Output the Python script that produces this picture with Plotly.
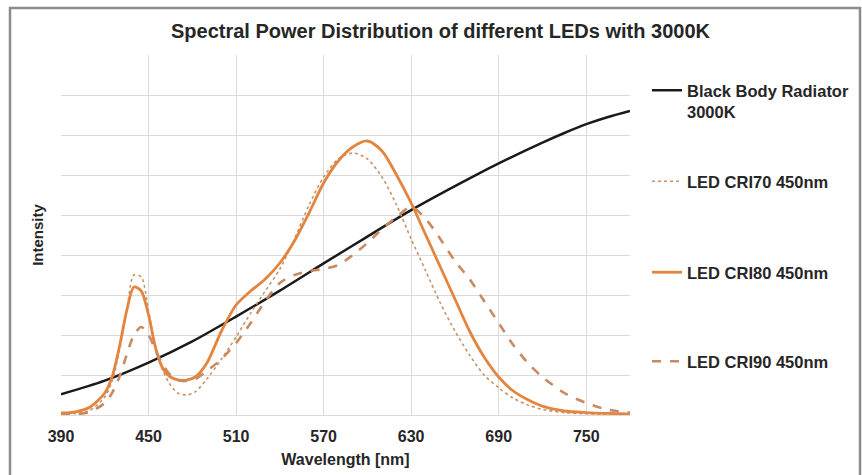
import plotly.graph_objects as go

# Wavelength samples (nm) for the LED spectra
wavelength = [390, 400, 410, 420, 425, 430, 435, 440, 445, 450, 455, 460, 465, 470,
              476, 482, 490, 500, 510, 520, 530, 540, 550, 560, 570, 580, 590, 600,
              610, 620, 630, 640, 650, 660, 670, 680, 690, 700, 710, 720, 735, 750,
              765, 780]

led_cri70 = [0.02, 0.04, 0.12, 0.45, 0.85, 1.6, 2.6, 3.5, 3.45, 2.6, 1.7, 1.1, 0.75, 0.55,
             0.5, 0.58, 0.9, 1.4, 1.95, 2.55, 3.1, 3.65, 4.4, 5.25, 5.95, 6.4, 6.55, 6.4,
             5.95, 5.25, 4.4, 3.6, 2.8, 2.1, 1.5, 1.0, 0.68, 0.42, 0.25, 0.14, 0.06, 0.03,
             0.02, 0.01]

led_cri80 = [0.05, 0.08, 0.2, 0.55, 0.95, 1.7, 2.6, 3.2, 3.1, 2.5, 1.65, 1.15, 0.95, 0.88,
             0.87, 0.95, 1.3, 2.1, 2.75, 3.1, 3.4, 3.8, 4.35, 5.05, 5.8, 6.35, 6.7, 6.85,
             6.6, 6.0, 5.3, 4.5, 3.7, 2.9, 2.1, 1.45, 0.95, 0.6, 0.38, 0.22, 0.1, 0.06,
             0.04, 0.03]

led_cri90 = [0.0, 0.02, 0.08, 0.3, 0.55, 0.95, 1.5, 2.0, 2.2, 2.0, 1.6, 1.25, 1.0, 0.88,
             0.85, 0.9, 1.1, 1.4, 1.8, 2.3, 2.85, 3.3, 3.5, 3.6, 3.65, 3.75, 4.0, 4.3,
             4.65, 4.95, 5.2, 4.9, 4.4, 3.85, 3.4, 2.85, 2.3, 1.75, 1.3, 0.95, 0.55, 0.3,
             0.13, 0.06]

# Black body radiator at 3000 K (relative intensity)
bb_wavelength = [390, 420, 450, 480, 510, 540, 570, 600, 630, 660, 690, 720, 735, 750,
                 765, 780]
bb_3000k = [0.52, 0.86, 1.31, 1.84, 2.46, 3.11, 3.79, 4.46, 5.12, 5.72, 6.29, 6.81,
            7.05, 7.27, 7.45, 7.6]

x_ticks = [390, 450, 510, 570, 630, 690, 750]

FONT = "Arial, Liberation Sans, sans-serif"
TEXT = "#262626"

W, H = 862, 475
L, R, T, B = 61, 232, 55, 60
pw, ph = W - L - R, H - T - B


def px_x(p):
    return (p - L) / pw


def px_y(p):
    return (H - B - p) / ph


fig = go.Figure()

fig.add_trace(go.Scatter(
    x=bb_wavelength, y=bb_3000k, mode="lines",
    name="Black Body Radiator<br>3000K",
    line=dict(color="#1a1a1a", width=2.5, shape="spline", smoothing=0.8),
    legend="legend",
))
fig.add_trace(go.Scatter(
    x=wavelength, y=led_cri70, mode="lines", name="LED CRI70 450nm",
    line=dict(color="#c99267", width=1.6, dash="dot", shape="spline", smoothing=0.8),
    legend="legend2",
))
fig.add_trace(go.Scatter(
    x=wavelength, y=led_cri80, mode="lines", name="LED CRI80 450nm",
    line=dict(color="#e3843f", width=2.8, shape="spline", smoothing=0.8),
    legend="legend3",
))
fig.add_trace(go.Scatter(
    x=wavelength, y=led_cri90, mode="lines", name="LED CRI90 450nm",
    line=dict(color="#c98a62", width=2.6, dash="dash", shape="spline", smoothing=0.8),
    legend="legend4",
))

legend_font = dict(family=FONT, size=16.5, color=TEXT, weight="bold")
leg_common = dict(x=px_x(647), xanchor="left", font=legend_font,
                  bgcolor="rgba(0,0,0,0)", itemwidth=30, valign="top",
                  tracegroupgap=0)

fig.update_layout(
    width=W, height=H,
    margin=dict(l=L, r=R, t=T, b=B, autoexpand=False),
    paper_bgcolor="white", plot_bgcolor="white",
    showlegend=True,
    title=dict(text="<b>Spectral Power Distribution of different LEDs with 3000K</b>",
               x=440.5 / W, xref="container", xanchor="center",
               y=1 - 31 / H, yanchor="middle",
               font=dict(family=FONT, size=20, color=TEXT)),
    legend=dict(y=px_y(73), yanchor="top", **leg_common),
    legend2=dict(y=px_y(164), yanchor="top", **leg_common),
    legend3=dict(y=px_y(255), yanchor="top", **leg_common),
    legend4=dict(y=px_y(344), yanchor="top", **leg_common),
    xaxis=dict(range=[390, 780], tickvals=x_ticks, showgrid=True,
               gridcolor="#dadada", gridwidth=1, zeroline=False, showline=False,
               ticks="", ticklabelstandoff=10, automargin=False,
               tickfont=dict(family=FONT, size=16, color=TEXT, weight="bold"),
               title=dict(text="<b>Wavelength [nm]</b>", standoff=9,
                          font=dict(family=FONT, size=16, color=TEXT))),
    yaxis=dict(range=[0, 9], dtick=1, showgrid=True, gridcolor="#dadada",
               gridwidth=1, zeroline=True, zerolinecolor="#dadada", zerolinewidth=1,
               showticklabels=False, ticks="", automargin=False,
               title=dict(text="<b>Intensity</b>", standoff=12,
                          font=dict(family=FONT, size=15, color=TEXT))),
    shapes=[dict(type="rect", xref="paper", yref="paper",
                 x0=px_x(10), x1=px_x(860), y0=px_y(478), y1=px_y(8),
                 line=dict(color="#8c8c8c", width=2.5), fillcolor="rgba(0,0,0,0)",
                 layer="below")],
)

fig.write_html("out.html")
